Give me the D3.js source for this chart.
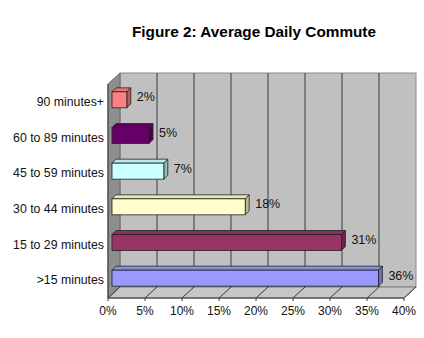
<!DOCTYPE html>
<html><head><meta charset="utf-8">
<script src="https://cdn.jsdelivr.net/npm/d3@7"></script>
<style>body{margin:0;background:#fff}svg{display:block}text{font-family:Arial,"Liberation Sans",sans-serif}</style>
</head><body>
<script>
const categories = ["90 minutes+", "60 to 89 minutes", "45 to 59 minutes", "30 to 44 minutes", "15 to 29 minutes", ">15 minutes"];
const values = [2, 5, 7, 18, 31, 36];
const colors = ["#ff8080", "#660066", "#ccffff", "#ffffcc", "#993366", "#9999ff"];
const tickValues = [0, 5, 10, 15, 20, 25, 30, 35, 40];
const title = "Figure 2: Average Daily Commute";

const W = 424, H = 338;
const svg = d3.select("body").append("svg").attr("width", W).attr("height", H);

const x = d3.scaleLinear().domain([0, 40]).range([108, 404]);
const y = d3.scaleBand().domain(categories).range([84, 298]);
const DX = 12, DY = -11;           // depth of the plot box
const bOff = 4, bD = 4;             // bar set-back and bar depth
const yTop = y.range()[0], yBot = y.range()[1];

const pts = a => a.map(p => p.join(",")).join(" ");

// back wall
svg.append("rect").attr("x", x(0) + DX).attr("y", yTop + DY)
  .attr("width", x(40) - x(0)).attr("height", yBot - yTop)
  .attr("fill", "#c0c0c0").attr("stroke", "#8a8a8a");
// side wall
svg.append("polygon").attr("points", pts([[x(0), yTop], [x(0) + DX, yTop + DY], [x(0) + DX, yBot + DY], [x(0), yBot]]))
  .attr("fill", "#8e8e8e").attr("stroke", "#6a6a6a");
// floor
svg.append("polygon").attr("points", pts([[x(0), yBot], [x(0) + DX, yBot + DY], [x(40) + DX, yBot + DY], [x(40), yBot]]))
  .attr("fill", "#c6c6c6").attr("stroke", "#7a7a7a");

// gridlines on back wall + floor ticks
const g = svg.append("g");
tickValues.filter(v => v > 0 && v < 40).forEach(v => {
  g.append("line").attr("x1", x(v) + DX).attr("x2", x(v) + DX)
    .attr("y1", yTop + DY).attr("y2", yBot + DY).attr("stroke", "#3a3a3a");
});
tickValues.forEach(v => {
  g.append("line").attr("x1", x(v)).attr("y1", yBot).attr("x2", x(v) + DX).attr("y2", yBot + DY)
    .attr("stroke", "#3a3a3a");
  g.append("line").attr("x1", x(v)).attr("y1", yBot).attr("x2", x(v)).attr("y2", yBot + 3)
    .attr("stroke", "#3a3a3a");
});
svg.append("line").attr("x1", x(0)).attr("x2", x(40)).attr("y1", yBot).attr("y2", yBot).attr("stroke", "#3a3a3a");
svg.append("line").attr("x1", x(0)).attr("x2", x(0)).attr("y1", yTop).attr("y2", yBot).attr("stroke", "#3a3a3a");

// bars
const bars = svg.append("g");
categories.forEach((c, i) => {
  const col = d3.color(colors[i]);
  const cy = y(c) + y.bandwidth() / 2;
  const t = cy - 10, b = cy + 6;
  const xl = x(0) + bOff, xr = x(values[i]) + bOff;
  bars.append("polygon").attr("points", pts([[xl, t], [xr, t], [xr + bD, t - bD], [xl + bD, t - bD]]))
    .attr("fill", col.darker(0.25)).attr("stroke", "#222").attr("stroke-width", 0.8);
  bars.append("polygon").attr("points", pts([[xr, t], [xr + bD, t - bD], [xr + bD, b - bD], [xr, b]]))
    .attr("fill", col.darker(0.9)).attr("stroke", "#222").attr("stroke-width", 0.8);
  bars.append("rect").attr("x", xl).attr("y", t).attr("width", xr - xl).attr("height", b - t)
    .attr("fill", col).attr("stroke", "#222").attr("stroke-width", 0.8);
  bars.append("text").attr("x", xr + bD + 6).attr("y", cy - 5).attr("dy", "0.35em")
    .attr("font-size", 12.5).attr("fill", "#111").text(values[i] + "%");
});

// category labels
svg.append("g").selectAll("text").data(categories).join("text")
  .attr("x", 104).attr("y", d => y(d) + y.bandwidth() / 2).attr("dy", "0.35em")
  .attr("text-anchor", "end").attr("font-size", 12.3).attr("fill", "#111").text(d => d);

// x tick labels
svg.append("g").selectAll("text").data(tickValues).join("text")
  .attr("x", d => x(d)).attr("y", 311).attr("dy", "0.35em")
  .attr("text-anchor", "middle").attr("font-size", 12).attr("fill", "#111").text(d => d + "%");

// title
svg.append("text").attr("x", 254).attr("y", 32).attr("dy", "0.35em").attr("text-anchor", "middle")
  .attr("font-size", 14.5).attr("font-weight", "bold").attr("fill", "#000")
  .attr("textLength", 244).attr("lengthAdjust", "spacingAndGlyphs").text(title);
</script>
</body></html>
